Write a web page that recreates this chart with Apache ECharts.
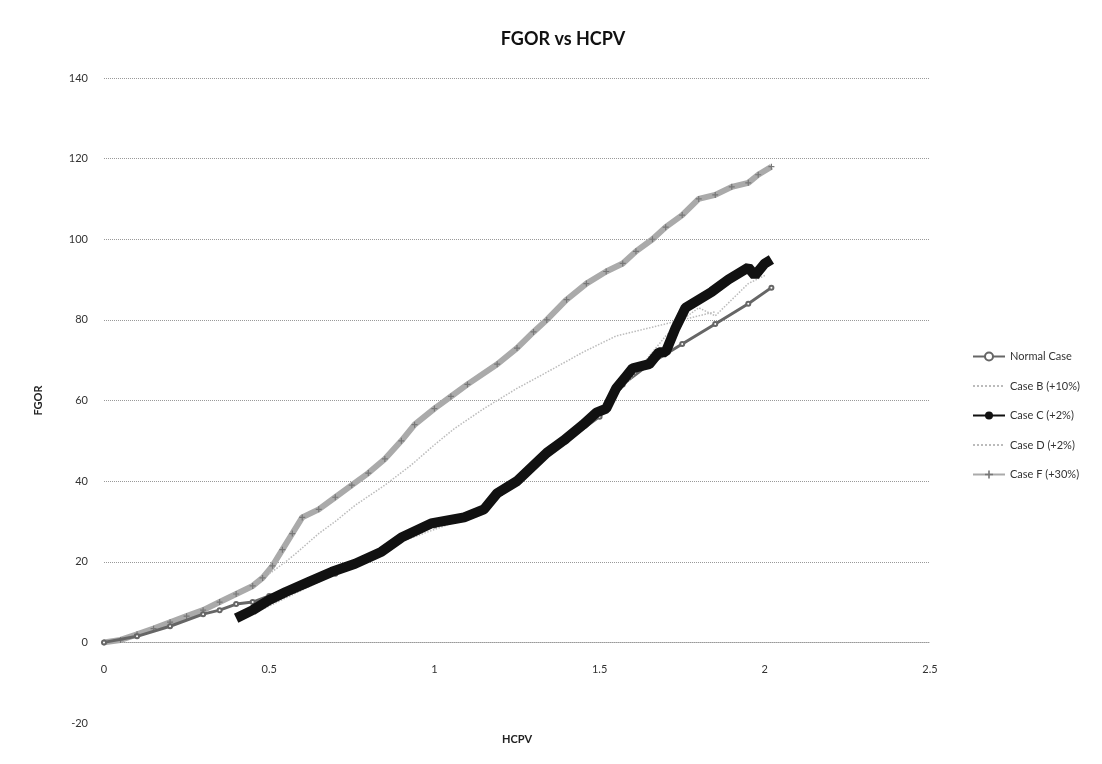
<!DOCTYPE html>
<html>
<head>
<meta charset="utf-8">
<title>FGOR vs HCPV</title>
<script src="https://cdn.jsdelivr.net/npm/echarts@6/dist/echarts.min.js"></script>
<style>
html, body { margin: 0; padding: 0; background: #fff; }
#chart { width: 1102px; height: 764px; }
</style>
</head>
<body>
<div id="chart"></div>
<script>
// points, [HCPV, FGOR]
const normalCase = [[0,0],[0.1,1.5],[0.2,4],[0.3,7],[0.35,8],[0.4,9.5],[0.45,10],[0.5,11.5],[0.6,14],[0.7,17],
  [0.8,21],[0.9,26],[1.0,29],[1.1,31],[1.2,37],[1.3,44],[1.4,50],[1.5,56],[1.57,64],[1.65,69],
  [1.75,74],[1.85,79],[1.95,84],[2.02,88]];
const caseB = [[0.5,17],[0.55,20],[0.58,22],[0.65,27],[0.7,30],[0.76,34],[0.85,39],[0.93,44],[1.0,49],
  [1.06,53],[1.15,58],[1.25,63],[1.34,67],[1.45,72],[1.55,76],[1.65,78],[1.75,80],[1.85,82]];
const caseC = [[0.4,6],[0.45,8],[0.5,10.5],[0.55,12.5],[0.62,15],[0.69,17.5],[0.76,19.5],[0.84,22.5],
  [0.9,26],[0.99,29.5],[1.09,31],[1.15,33],[1.19,37],[1.25,40],[1.34,47],[1.39,50],[1.45,54],[1.49,57],
  [1.52,58],[1.55,63],[1.58,66],[1.6,68],[1.65,69],[1.68,72],[1.7,72],[1.73,78],[1.76,83],[1.8,85],
  [1.84,87],[1.89,90],[1.93,92],[1.95,93],[1.97,91],[2.0,94],[2.02,95]];
const caseD = [[0.42,6],[0.5,9],[0.6,13],[0.7,17],[0.8,20],[0.9,25],[1.0,28],[1.1,31],[1.2,37],[1.3,44],
  [1.4,50],[1.5,57],[1.6,66],[1.7,76],[1.75,80],[1.8,83],[1.85,81],[1.9,85],[1.95,89],[2.0,91]];
const caseF = [[0,0],[0.05,0.6],[0.1,2],[0.15,3.4],[0.2,5],[0.25,6.5],[0.3,8],[0.35,10],[0.4,12],[0.45,14],
  [0.48,16],[0.51,19],[0.54,23],[0.57,27],[0.6,31],[0.65,33],[0.7,36],[0.75,39],[0.8,42],[0.85,45.5],
  [0.9,50],[0.94,54],[1.0,58],[1.05,61],[1.1,64],[1.19,69],[1.25,73],[1.3,77],[1.34,80],[1.4,85],
  [1.46,89],[1.52,92],[1.57,94],[1.61,97],[1.66,100],[1.7,103],[1.75,106],[1.8,110],[1.85,111],
  [1.9,113],[1.95,114],[1.98,116],[2.02,118]];

const names = ['Normal Case', 'Case B (+10%)', 'Case C (+2%)', 'Case D (+2%)', 'Case F (+30%)'];
const plus = 'path://M4,0H6V4H10V6H6V10H4V6H0V4H4Z';
const font = 'Lato, "Open Sans", sans-serif';

const chart = echarts.init(document.getElementById('chart'));
chart.setOption({
  animation: false,
  backgroundColor: '#fff',
  title: {
    text: 'FGOR vs HCPV',
    left: 558, top: 25, textAlign: 'center',
    textStyle: { fontFamily: font, fontSize: 18, fontWeight: 'bold', color: '#111' }
  },
  legend: {
    orient: 'vertical', left: 967, top: 346,
    itemWidth: 32, itemHeight: 10, itemGap: 18.5,
    textStyle: { fontFamily: font, fontSize: 11, color: '#333' },
    data: [
      names[0],
      { name: names[1], itemStyle: { opacity: 0 } },
      names[2],
      { name: names[3], itemStyle: { opacity: 0 } },
      names[4]
    ]
  },
  grid: { left: 104, right: 172, top: 78, bottom: 41, outerBoundsMode: 'none' },
  xAxis: {
    type: 'value', min: 0, max: 2.5, interval: 0.5,
    // x axis crosses at FGOR = 0, one 20-step above the bottom of the grid
    offset: -80.6,
    name: 'HCPV', nameLocation: 'middle', nameGap: 92,
    nameTextStyle: { fontFamily: font, fontSize: 11, fontWeight: 'bold', color: '#222' },
    axisLine: { onZero: false, lineStyle: { color: '#999', type: 'dotted' } },
    axisTick: { show: false },
    axisLabel: { fontFamily: font, fontSize: 11, color: '#333', margin: 22 },
    splitLine: { show: false }
  },
  yAxis: {
    type: 'value', min: -20, max: 140, interval: 20,
    name: 'FGOR', nameLocation: 'middle', nameGap: 60,
    nameTextStyle: { fontFamily: font, fontSize: 11, fontWeight: 'bold', color: '#222' },
    axisLine: { show: false },
    axisTick: { show: false },
    axisLabel: { fontFamily: font, fontSize: 11, color: '#333', margin: 16 },
    splitLine: { showMinLine: false, lineStyle: { color: '#999', type: 'dotted' } }
  },
  series: [
    {
      name: names[4], type: 'line', data: caseF, z: 2,
      symbol: plus, symbolSize: 6,
      itemStyle: { color: '#777' },
      lineStyle: { color: '#aaa', width: 6 }
    },
    {
      name: names[1], type: 'line', data: caseB, z: 3, symbol: 'none',
      itemStyle: { color: '#bbb' },
      lineStyle: { color: '#bbb', width: 1.5, type: 'dotted' }
    },
    {
      name: names[0], type: 'line', data: normalCase, z: 3,
      symbol: 'emptyCircle', symbolSize: 4,
      itemStyle: { color: '#666' },
      lineStyle: { color: '#666', width: 3 }
    },
    {
      name: names[3], type: 'line', data: caseD, z: 4, symbol: 'none',
      itemStyle: { color: '#bbb' },
      lineStyle: { color: '#bbb', width: 1.5, type: 'dotted' }
    },
    {
      name: names[2], type: 'line', data: caseC, z: 5, symbol: 'none',
      itemStyle: { color: '#111' },
      lineStyle: { color: '#111', width: 10 }
    }
  ]
});
</script>
</body>
</html>
